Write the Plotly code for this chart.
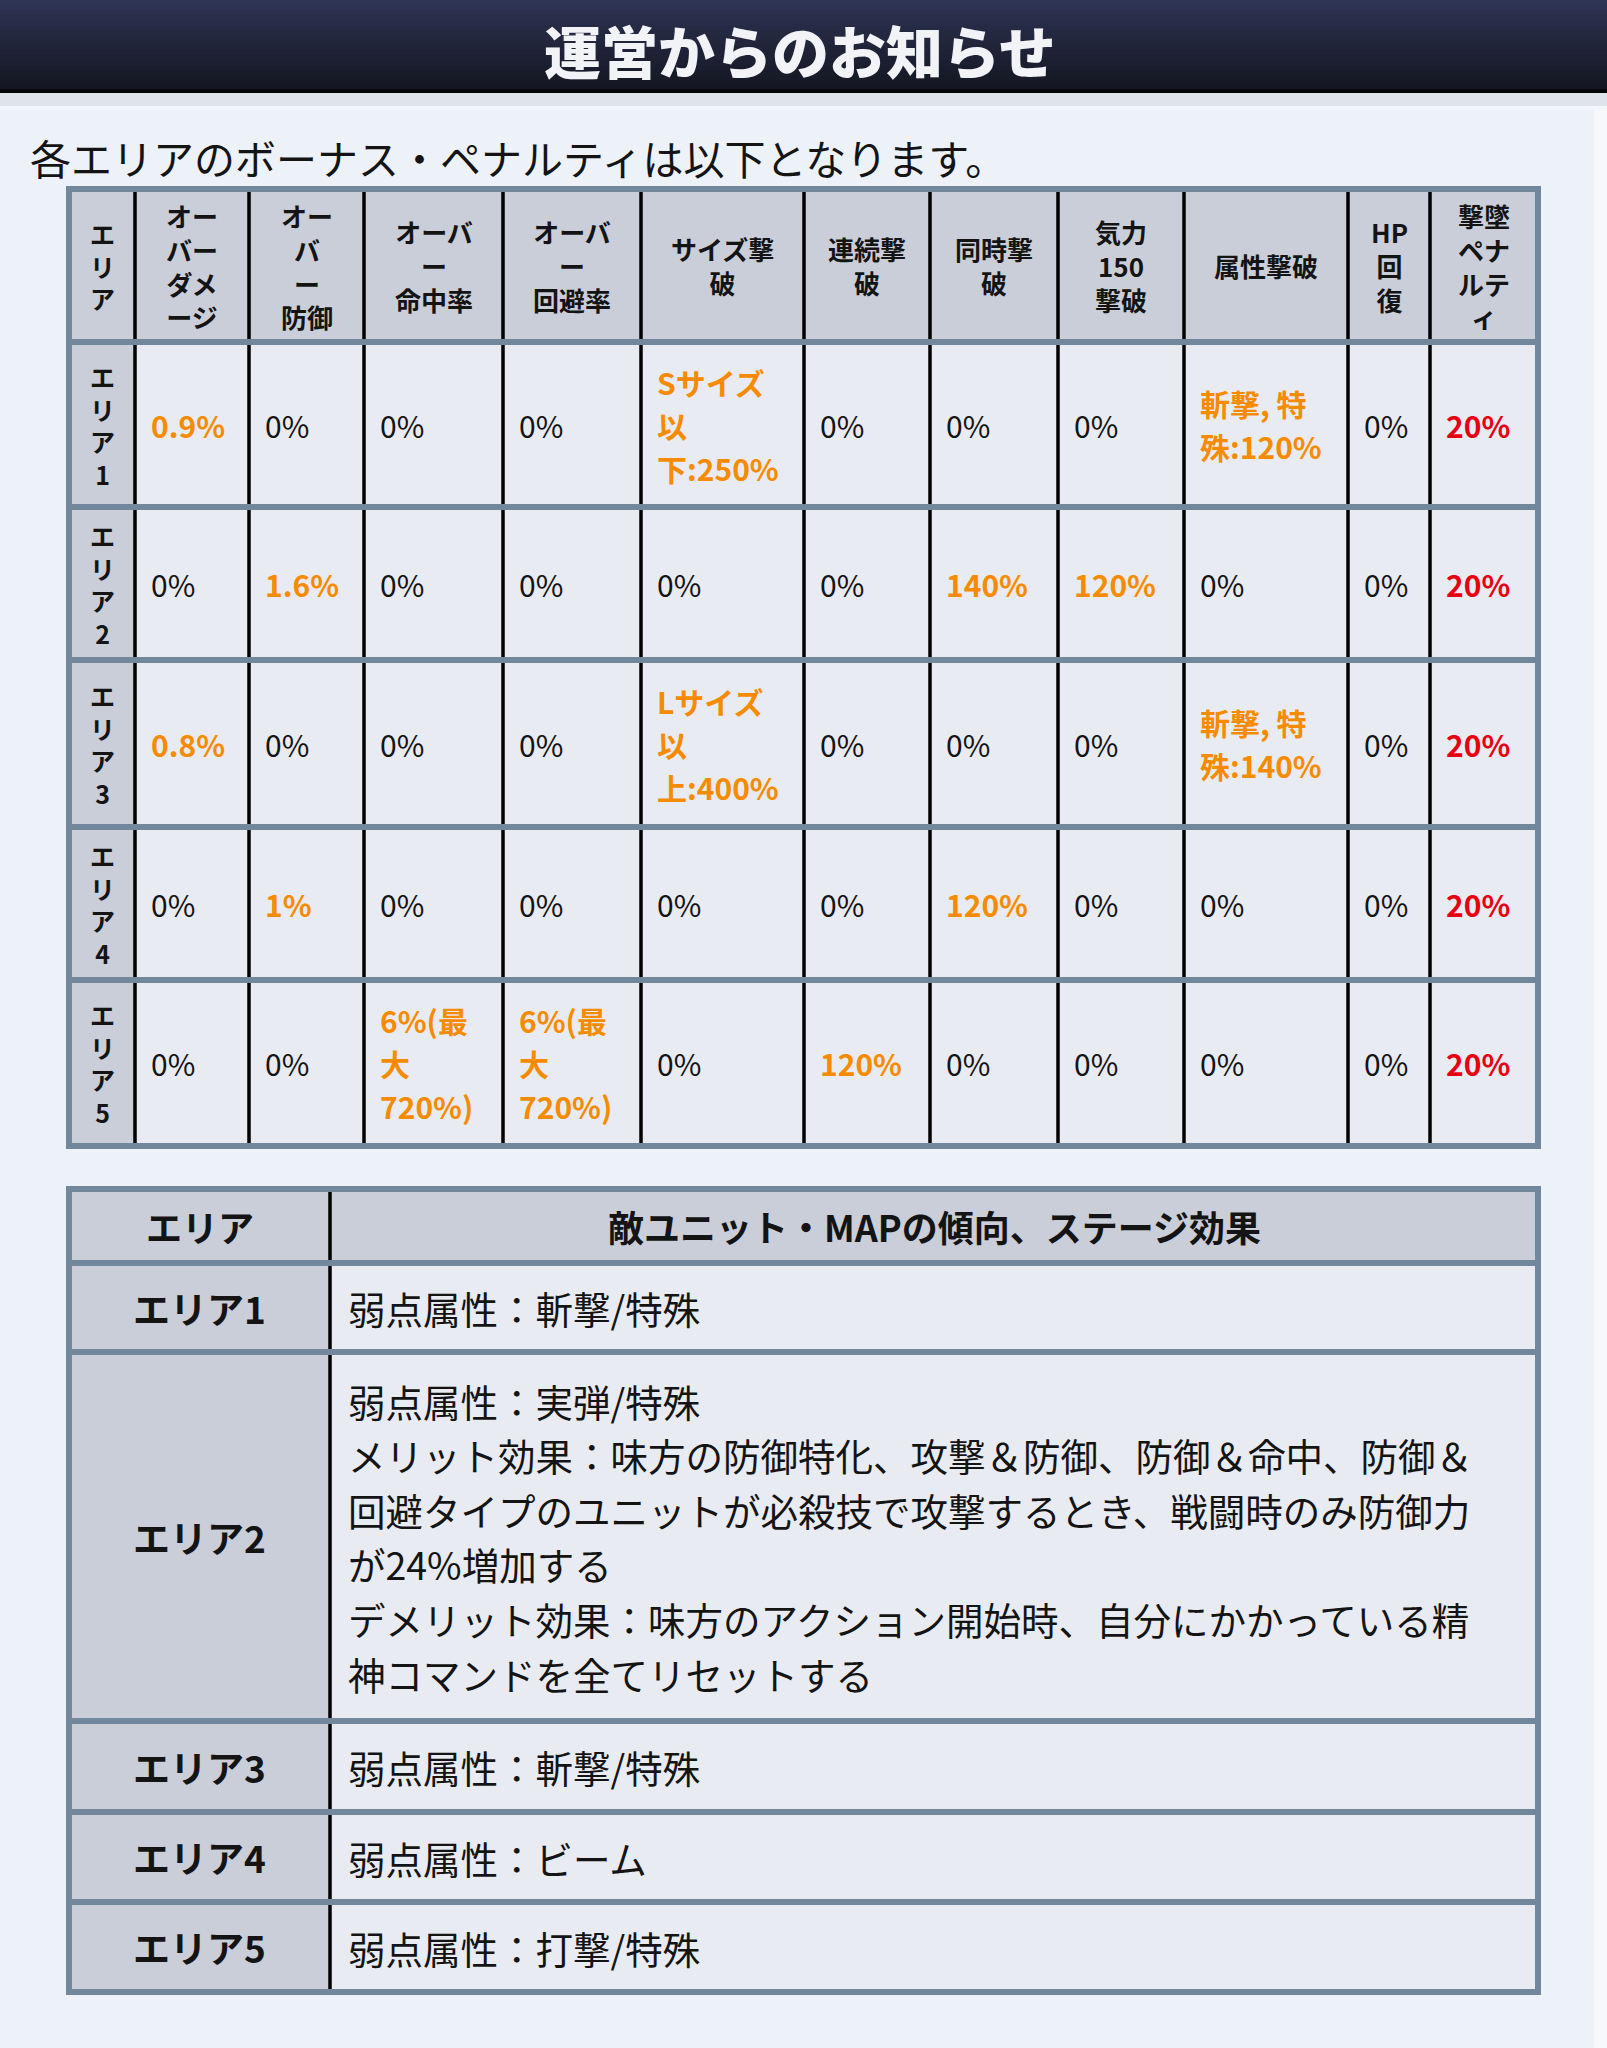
import plotly.graph_objects as go

# ---------------- data ----------------
TITLE = "運営からのお知らせ"
SUBTITLE = "各エリアのボーナス・ペナルティは以下となります。"

T1_HEADERS = ["エ\nリ\nア", "オー\nバー\nダメ\nージ", "オー\nバ\nー\n防御", "オーバ\nー\n命中率",
              "オーバ\nー\n回避率", "サイズ撃\n破", "連続撃\n破", "同時撃\n破", "気力\n150\n撃破",
              "属性撃破", "HP\n回\n復", "撃墜\nペナ\nルテ\nィ"]
AREAS = ["エリア1", "エリア2", "エリア3", "エリア4", "エリア5"]
AREA1 = ["0.9%", "0%", "0%", "0%", "Sサイズ\n以\n下:250%", "0%", "0%", "0%", "斬撃, 特\n殊:120%", "0%", "20%"]
AREA2 = ["0%", "1.6%", "0%", "0%", "0%", "0%", "140%", "120%", "0%", "0%", "20%"]
AREA3 = ["0.8%", "0%", "0%", "0%", "Lサイズ\n以\n上:400%", "0%", "0%", "0%", "斬撃, 特\n殊:140%", "0%", "20%"]
AREA4 = ["0%", "1%", "0%", "0%", "0%", "0%", "120%", "0%", "0%", "0%", "20%"]
AREA5 = ["0%", "0%", "6%(最\n大\n720%)", "6%(最\n大\n720%)", "0%", "120%", "0%", "0%", "0%", "0%", "20%"]
T1_ROWS = [AREA1, AREA2, AREA3, AREA4, AREA5]

T2_HEADERS = ["エリア", "敵ユニット・MAPの傾向、ステージ効果"]
T2_EFFECTS = [
    "弱点属性：斬撃/特殊",
    "弱点属性：実弾/特殊\nメリット効果：味方の防御特化、攻撃＆防御、防御＆命中、防御＆\n"
    "回避タイプのユニットが必殺技で攻撃するとき、戦闘時のみ防御力\nが24%増加する\n"
    "デメリット効果：味方のアクション開始時、自分にかかっている精\n神コマンドを全てリセットする",
    "弱点属性：斬撃/特殊",
    "弱点属性：ビーム",
    "弱点属性：打撃/特殊",
]

# ---------------- layout / style ----------------
W, H = 1607, 2048
FONT = "Noto Sans CJK JP"
BG = "#edf2f8"
HEAD = "#c9ced8"
CELL = "#e9ebf2"
BORDER = "#72879b"
ORANGE = "#f68b00"
RED = "#e60012"
INK = "#141414"

T1_X = [69, 135, 249, 364, 503, 641, 804, 930, 1058, 1184, 1348, 1430, 1538]
T1_Y = [189, 342, 507, 660, 827, 980, 1146]
T2_X = [69, 330, 1538]
T2_Y = [1189, 1263, 1352, 1721, 1812, 1902, 1992]

fig = go.Figure()
fig.add_trace(go.Scatter(x=[0, W], y=[0, H], mode="markers", marker=dict(opacity=0),
                         hoverinfo="skip", showlegend=False))

shapes = []
annotations = []


def rect(x0, y0, x1, y1, fill, lc=None, lw=0):
    shapes.append(dict(type="rect", xref="x", yref="y", x0=x0, y0=y0, x1=x1, y1=y1,
                       fillcolor=fill, line=dict(width=lw, color=lc or "rgba(0,0,0,0)"), layer="above"))


def seg(x0, y0, x1, y1, color, w):
    shapes.append(dict(type="line", xref="x", yref="y", x0=x0, y0=y0, x1=x1, y1=y1,
                       line=dict(color=color, width=w), layer="above"))


def note(x, y, s, size, color, weight, anchor):
    annotations.append(dict(x=x, y=y, xref="x", yref="y", text=s, showarrow=False,
                            xanchor=anchor, yanchor="middle",
                            align=anchor if anchor != "center" else "center",
                            font=dict(family=FONT, size=size, color=color, weight=weight)))


def text(x, y, s, size, color=INK, bold=False, anchor="center", lh=None, weight=None, single=False):
    w = weight if weight else ("bold" if bold else "normal")
    lines = s.split("\n")
    if single or len(lines) == 1:
        note(x, y, "<br>".join(lines), size, color, w, anchor)
        return
    n = len(lines)
    for i, ln in enumerate(lines):
        note(x, y + (i - (n - 1) / 2) * lh, ln, size, color, w, anchor)


# background panel
rect(0, 0, W, H, BG)
rect(1594, 108, W, H, "#f6f8fb")
# title bar gradient
top = (46, 52, 84)
bot = (20, 23, 33)
nb = 18
for i in range(nb):
    t = i / (nb - 1)
    c = tuple(int(top[k] + (bot[k] - top[k]) * t) for k in range(3))
    rect(0, i * 90 / nb, W, (i + 1) * 90 / nb + 0.5, "rgb(%d,%d,%d)" % c)
rect(0, 89, W, 93, "#05060a")
rect(0, 93, W, 108, "#dfe4eb")
rect(0, 106, W, 110, "#f3f6fa")

text(800, 49, TITLE, 57, color="#f2f3f6", weight=900)
text(28, 157, SUBTITLE, 41, anchor="left")

# ---------------- table 1 ----------------
x0, x1 = T1_X[0], T1_X[-1]
y0, y1 = T1_Y[0], T1_Y[-1]
rect(x0, y0, x1, y1, CELL)
rect(x0, y0, x1, T1_Y[1], HEAD)
rect(x0, T1_Y[1], T1_X[1], y1, HEAD)
for xv in T1_X[1:-1]:
    seg(xv, y0, xv, y1, "#000000", 3.5)
for yv in T1_Y[1:-1]:
    seg(x0, yv, x1, yv, BORDER, 6)
rect(x0, y0, x1, y1, "rgba(0,0,0,0)", BORDER, 6)

hy = (T1_Y[0] + T1_Y[1]) / 2
for c, h in enumerate(T1_HEADERS):
    cx = (T1_X[c] + T1_X[c + 1]) / 2
    text(cx, hy, h, 25 if c == 0 else 26, bold=True, single=True)

ncol = len(T1_HEADERS)
for r, row in enumerate(T1_ROWS):
    cy = (T1_Y[r + 1] + T1_Y[r + 2]) / 2
    cx = (T1_X[0] + T1_X[1]) / 2
    text(cx, cy, "\n".join(list(AREAS[r])), 25, bold=True, single=True)
    for c, v in enumerate(row):
        col = c + 1
        if v == "0%":
            color, bold = INK, False
        elif col == ncol - 1:
            color, bold = RED, True
        else:
            color, bold = ORANGE, True
        text(T1_X[col] + 14, cy, v, 30, color=color, bold=bold, anchor="left", lh=43)

# ---------------- table 2 ----------------
x0, x1 = T2_X[0], T2_X[-1]
y0, y1 = T2_Y[0], T2_Y[-1]
rect(x0, y0, x1, y1, CELL)
rect(x0, y0, x1, T2_Y[1], HEAD)
rect(x0, T2_Y[1], T2_X[1], y1, HEAD)
seg(T2_X[1], y0, T2_X[1], y1, "#000000", 3.5)
for yv in T2_Y[1:-1]:
    seg(x0, yv, x1, yv, BORDER, 6)
rect(x0, y0, x1, y1, "rgba(0,0,0,0)", BORDER, 6)

hy = (T2_Y[0] + T2_Y[1]) / 2
for c, h in enumerate(T2_HEADERS):
    text((T2_X[c] + T2_X[c + 1]) / 2, hy, h, 36, bold=True)
for r, eff in enumerate(T2_EFFECTS):
    cy = (T2_Y[r + 1] + T2_Y[r + 2]) / 2
    text((T2_X[0] + T2_X[1]) / 2, cy, AREAS[r], 37, bold=True)
    text(T2_X[1] + 16, cy, eff, 37.5, anchor="left", lh=54.6)

fig.update_layout(
    width=W, height=H, margin=dict(l=0, r=0, t=0, b=0, pad=0),
    paper_bgcolor=BG, plot_bgcolor=BG,
    xaxis=dict(range=[0, W], visible=False, fixedrange=True),
    yaxis=dict(range=[H, 0], visible=False, fixedrange=True),
    shapes=shapes, annotations=annotations, showlegend=False,
)
fig.write_html("out.html", config={"displayModeBar": False},
               post_script="document.body.style.margin='0px';")
